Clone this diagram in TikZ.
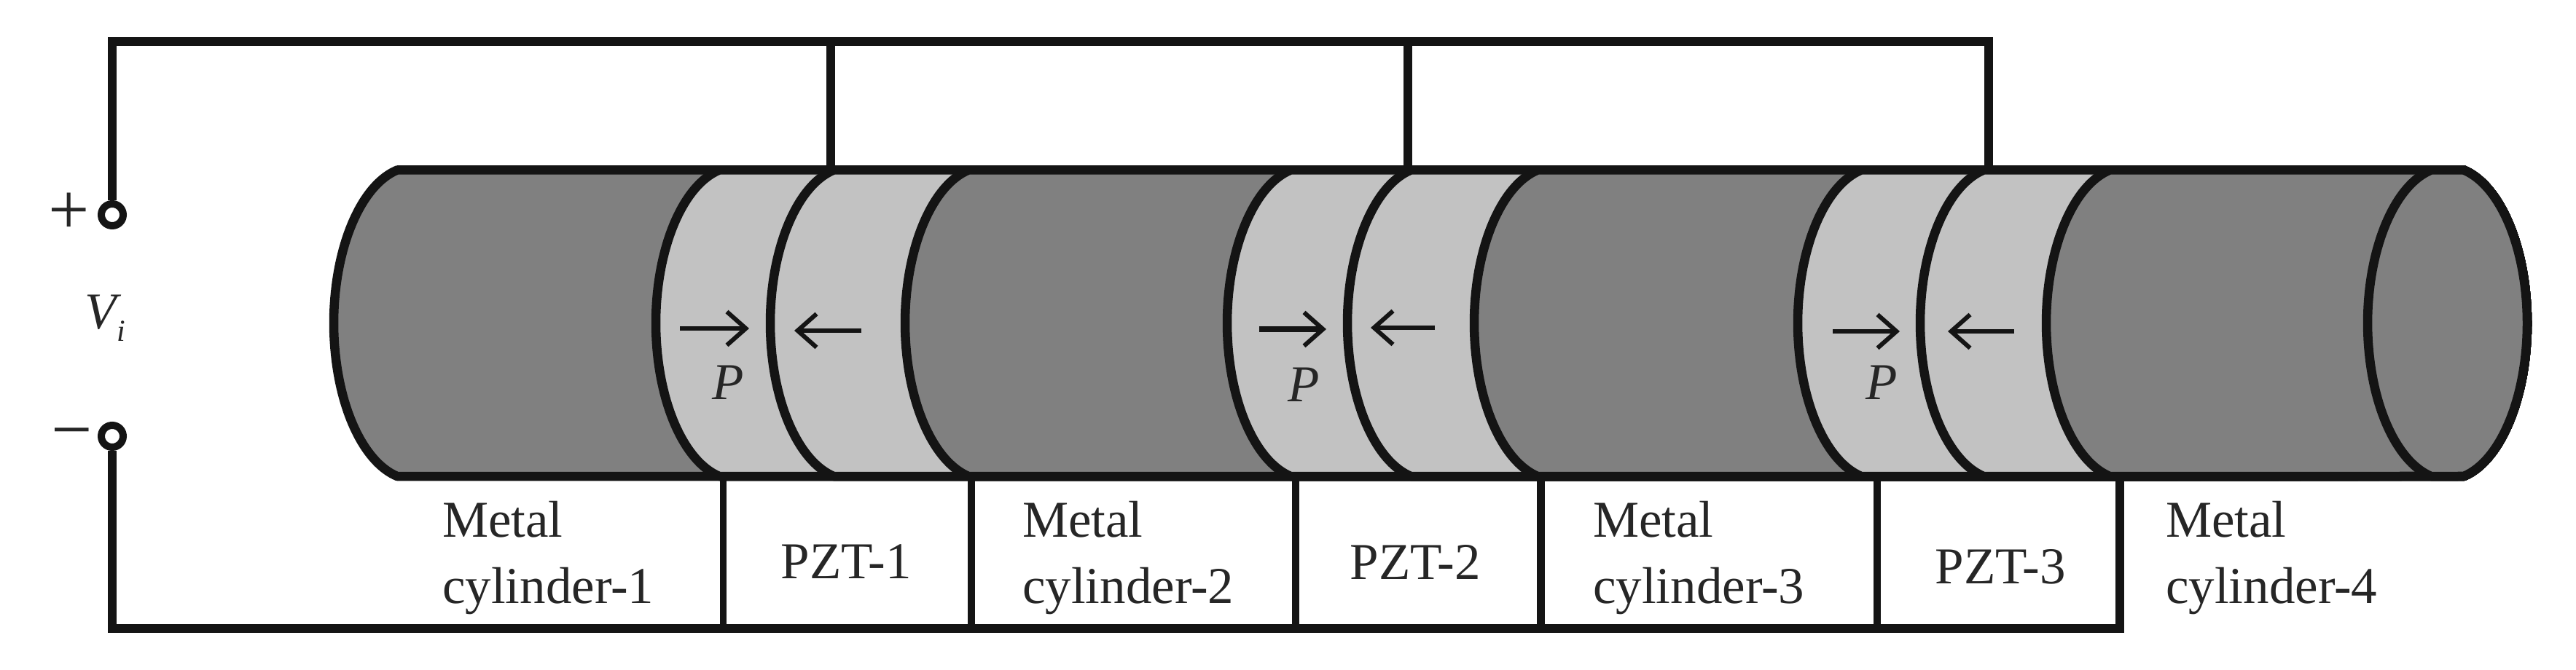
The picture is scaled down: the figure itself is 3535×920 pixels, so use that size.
\documentclass[tikz,border=0pt]{standalone}
\usepackage{fontspec}
\setmainfont{Liberation Serif}
\usetikzlibrary{arrows.meta}
\definecolor{metalgray}{HTML}{808080}
\definecolor{pztgray}{HTML}{C2C2C2}
\definecolor{inkblack}{HTML}{141414}
\tikzset{
  x=1pt,y=1pt,
  wire/.style={draw=inkblack,line width=12pt,line join=miter},
  divider/.style={draw=inkblack,line width=10.5pt},
  segshape/.style={draw=inkblack,line width=12.5pt,line join=round},
  terminal/.style={circle,draw=inkblack,fill=white,line width=10pt,inner sep=0pt,minimum size=30pt},
  polar/.style={draw=inkblack,line width=6pt,-{Straight Barb[length=26pt,width=46pt,line width=6pt]}},
  labeltext/.style={font=\fontsize{71}{91}\selectfont,text=black!85,inner sep=0pt,outer sep=0pt,align=left},
  emtext/.style={font=\fontsize{71}{91}\selectfont\itshape,text=black!85,inner sep=0pt,outer sep=0pt},
  signtext/.style={font=\fontsize{100}{110}\selectfont,text=black!85,inner sep=0pt,outer sep=0pt},
  lensarc/.style={x radius=110,y radius=215},
}
% #1 = leftmost x of the segment's curved face, #2 = fill
\newcommand{\cylseg}[2]{%
  \path[segshape,fill=#2] (#1+87.1,686.5) arc[start angle=102.04,end angle=257.96,lensarc]
    -- (3380.9,266) arc[start angle=-77.96,end angle=77.96,lensarc] -- cycle;}
\begin{document}
\begin{tikzpicture}
\useasboundingbox (0,0) rectangle (3535,920);
\fill[white] (0,0) rectangle (3535,920);
% cylinder
\cylseg{458}{metalgray}
\cylseg{900}{pztgray}
\cylseg{1057}{pztgray}
\cylseg{1242}{metalgray}
\cylseg{1684}{pztgray}
\cylseg{1849}{pztgray}
\cylseg{2023}{metalgray}
\cylseg{2467}{pztgray}
\cylseg{2635}{pztgray}
\cylseg{2808}{metalgray}
\cylseg{3249}{metalgray}
% terminals
\node[terminal] (plus) at (154,625) {};
\node[terminal] (minus) at (154,321) {};
\node[signtext] (plussign) at (95,627) {+};
\node[signtext] (minussign) at (99,314) {−};
\node[emtext,anchor=base west] (vi) at (116,468) {V};
\node[emtext,anchor=base west,font=\fontsize{42}{50}\selectfont\itshape] (visub) at (160,451) {i};
% wire coordinates
\coordinate (tl) at (154,862.5);
\coordinate (tr) at (2729,862.5);
\coordinate (tap1top) at (1140,862.5);
\coordinate (tap1) at (1140,686.5);
\coordinate (tap2top) at (1932,862.5);
\coordinate (tap2) at (1932,686.5);
\coordinate (tap3) at (2729,686.5);
\coordinate (bl) at (154,57);
\coordinate (br) at (2909,57);
\coordinate (s1a) at (992,266); \coordinate (s1b) at (992,57);
\coordinate (s2a) at (1333,266); \coordinate (s2b) at (1333,57);
\coordinate (s3a) at (1778,266); \coordinate (s3b) at (1778,57);
\coordinate (s4a) at (2114.5,266); \coordinate (s4b) at (2114.5,57);
\coordinate (s5a) at (2576,266); \coordinate (s5b) at (2576,57);
\coordinate (s6a) at (2909,266);
% wires
\draw[wire] (plus.north) -- (tl) -- (tr) -- (tap3);
\draw[wire] (tap1top) -- (tap1);
\draw[wire] (tap2top) -- (tap2);
\draw[wire] (minus.south) -- (bl) -- (br) -- (s6a);
\draw[divider,line width=9pt] (s1a) -- (s1b);
\draw[divider] (s2a) -- (s2b);
\draw[divider] (s3a) -- (s3b);
\draw[divider] (s4a) -- (s4b);
\draw[divider] (s5a) -- (s5b);
% polarisation arrows
\coordinate (a1s) at (933,469); \coordinate (a1e) at (1028,469);
\coordinate (b1s) at (1182,466); \coordinate (b1e) at (1090,466);
\coordinate (a2s) at (1728,468); \coordinate (a2e) at (1820,468);
\coordinate (b2s) at (1969,470); \coordinate (b2e) at (1881,470);
\coordinate (a3s) at (2515,465); \coordinate (a3e) at (2607,465);
\coordinate (b3s) at (2764,465); \coordinate (b3e) at (2673,465);
\draw[polar] (a1s) -- (a1e);
\draw[polar] (b1s) -- (b1e);
\draw[polar,line width=8pt] (a2s) -- (a2e);
\draw[polar] (b2s) -- (b2e);
\draw[polar] (a3s) -- (a3e);
\draw[polar] (b3s) -- (b3e);
\node[emtext,anchor=base] (p1) at (999,371) {P};
\node[emtext,anchor=base] (p2) at (1789,368) {P};
\node[emtext,anchor=base] (p3) at (2582,371) {P};
% labels
\node[labeltext,anchor=north west] (m1) at (607,232) {Metal\\cylinder-1};
\node[labeltext,anchor=north west] (m2) at (1403,232) {Metal\\cylinder-2};
\node[labeltext,anchor=north west] (m3) at (2186,232) {Metal\\cylinder-3};
\node[labeltext,anchor=north west] (m4) at (2972,232) {Metal\\cylinder-4};
\node[labeltext,anchor=base] (z1) at (1161,125) {PZT-1};
\node[labeltext,anchor=base] (z2) at (1942,124) {PZT-2};
\node[labeltext,anchor=base] (z3) at (2745,118) {PZT-3};
\end{tikzpicture}
\end{document}
